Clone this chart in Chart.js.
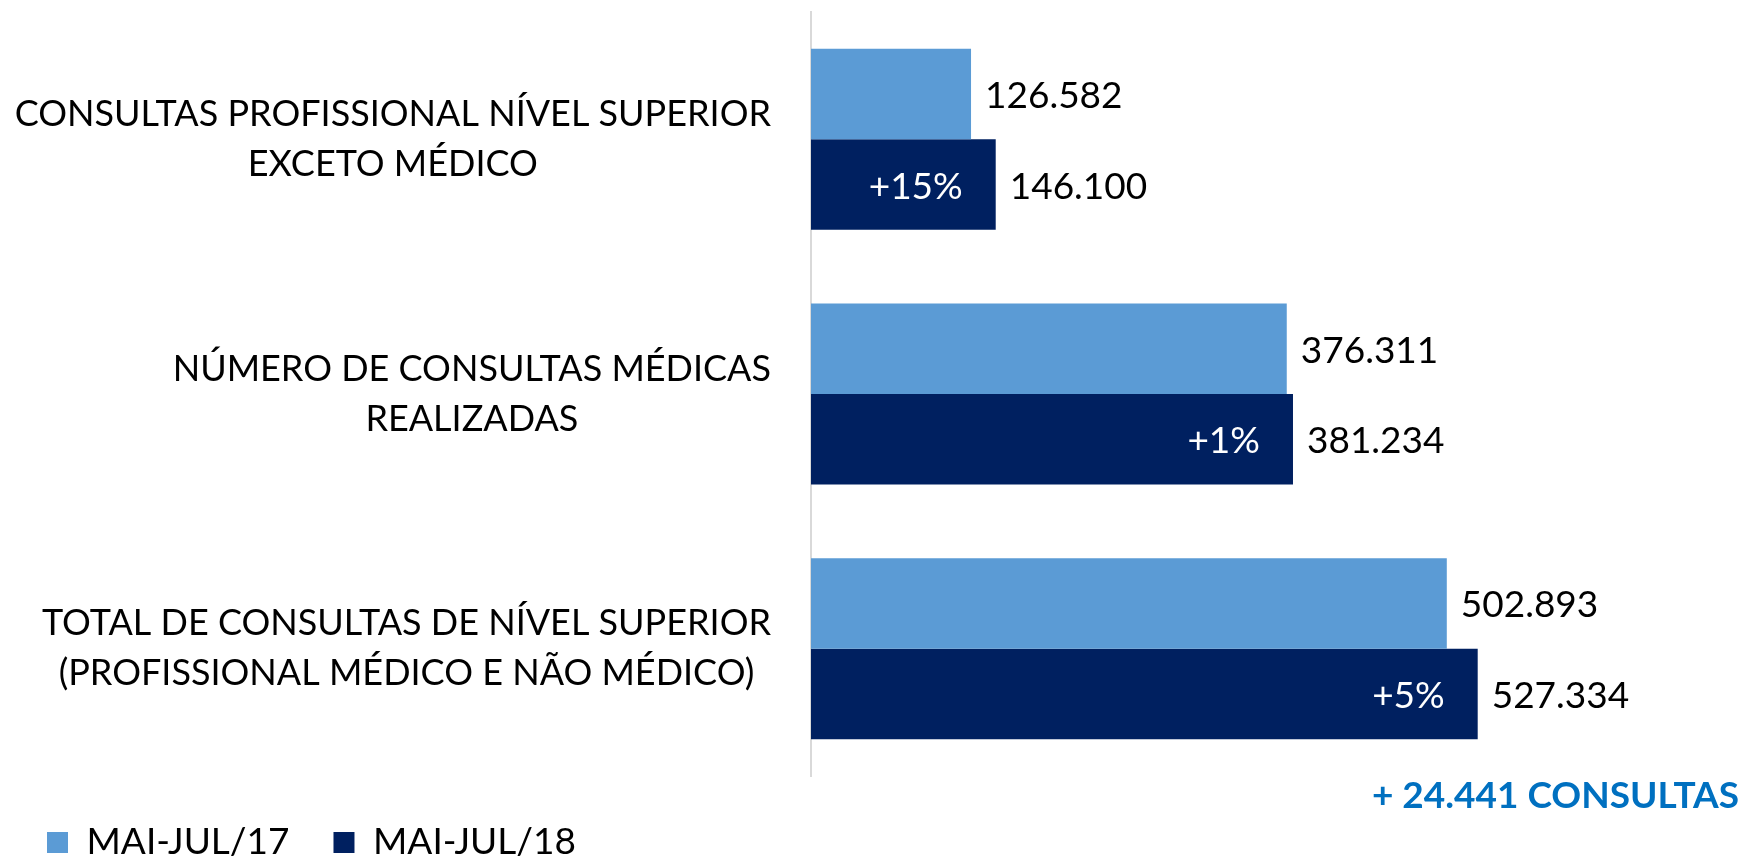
<!DOCTYPE html>
<html>
<head>
<meta charset="utf-8">
<script src="https://cdn.jsdelivr.net/npm/chart.js@4.4.0/dist/chart.umd.min.js"></script>
<style>
  html, body { margin: 0; padding: 0; background: #fff; }
  #wrap { width: 1746px; height: 861px; }
</style>
</head>
<body>
<div id="wrap"><canvas id="barChart"></canvas></div>
<script>
var categories = [
    ["CONSULTAS PROFISSIONAL NÍVEL SUPERIOR", "EXCETO MÉDICO"],
    ["NÚMERO DE CONSULTAS MÉDICAS", "REALIZADAS"],
    ["TOTAL DE CONSULTAS DE NÍVEL SUPERIOR", "(PROFISSIONAL MÉDICO E NÃO MÉDICO)"]
];
var seriesNames = ["MAI-JUL/17", "MAI-JUL/18"];
var values17 = [126582, 376311, 502893];
var values18 = [146100, 381234, 527334];
var growthLabels = ["+15%", "+1%", "+5%"];
var totalNote = "+ 24.441 CONSULTAS";

var FONT = "Lato";

function fmt(v) {
    return String(v).replace(/\B(?=(\d{3})+(?!\d))/g, ".");
}

// category names, value labels, growth labels and the total note
var labelsPlugin = {
    id: "labels",
    afterDatasetsDraw: function (chart) {
        var ctx = chart.ctx;
        var yScale = chart.scales.y;
        ctx.save();
        ctx.textBaseline = "middle";

        ctx.font = "36px " + FONT;
        ctx.fillStyle = "#000";
        ctx.textAlign = "center";
        categories.forEach(function (lines, i) {
            var yc = yScale.getPixelForTick(i);
            var w = Math.max.apply(null, lines.map(function (l) { return ctx.measureText(l).width; }));
            var xc = chart.chartArea.left - 40 - w / 2;
            lines.forEach(function (l, j) {
                ctx.fillText(l, xc, yc + (j - (lines.length - 1) / 2) * 50);
            });
        });

        ctx.font = "37px " + FONT;
        chart.data.datasets.forEach(function (ds, di) {
            chart.getDatasetMeta(di).data.forEach(function (bar, i) {
                ctx.textAlign = "left";
                ctx.fillStyle = "#000";
                ctx.fillText(fmt(ds.data[i]), bar.x + 14, bar.y + 2);
                if (di === 1) {
                    ctx.textAlign = "right";
                    ctx.fillStyle = "#fff";
                    ctx.fillText(growthLabels[i], bar.x - 33, bar.y + 2);
                }
            });
        });

        ctx.font = "bold 37px " + FONT;
        ctx.fillStyle = "#0070C0";
        ctx.textAlign = "right";
        ctx.fillText(totalNote, chart.width - 7, chart.chartArea.bottom + 20);
        ctx.restore();
    }
};

var ctx = document.getElementById("barChart").getContext("2d");
new Chart(ctx, {
    type: "bar",
    data: {
        labels: categories,
        datasets: [
            {
                label: seriesNames[0],
                data: values17,
                backgroundColor: "#5B9BD5",
                categoryPercentage: 0.711,
                barPercentage: 1.0
            },
            {
                label: seriesNames[1],
                data: values18,
                backgroundColor: "#002060",
                categoryPercentage: 0.711,
                barPercentage: 1.0
            }
        ]
    },
    options: {
        indexAxis: "y",
        responsive: true,
        maintainAspectRatio: false,
        animation: false,
        layout: { padding: { left: 3, right: 50, top: 12, bottom: -10 } },
        scales: {
            x: {
                min: 0,
                max: 700000,
                grid: { display: false },
                border: { display: false },
                ticks: { display: false },
                afterFit: function (s) { s.height = 4; }
            },
            y: {
                grid: { display: false },
                border: { display: true, color: "#D9D9D9", width: 2 },
                ticks: { display: false },
                afterFit: function (s) { s.width = 808; }
            }
        },
        plugins: {
            legend: {
                position: "bottom",
                align: "start",
                labels: {
                    boxWidth: 21,
                    boxHeight: 21,
                    color: "#000",
                    padding: 44,
                    font: { family: FONT, size: 37 }
                }
            },
            tooltip: { enabled: false }
        }
    },
    plugins: [labelsPlugin]
});
</script>
</body>
</html>
